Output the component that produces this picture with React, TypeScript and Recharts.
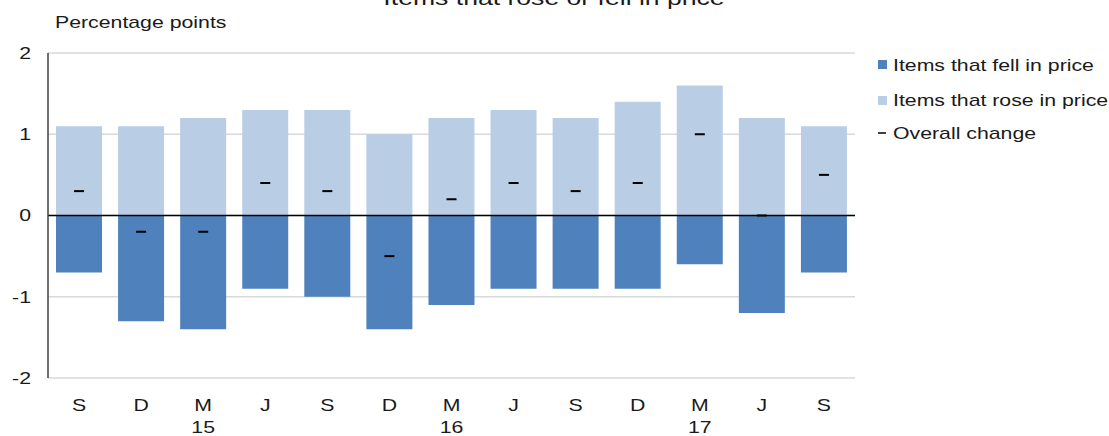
import React from "react";
import {
  ComposedChart,
  Bar,
  Line,
  XAxis,
  YAxis,
  CartesianGrid,
  ReferenceLine,
} from "recharts";

const months = ["S", "D", "M", "J", "S", "D", "M", "J", "S", "D", "M", "J", "S"];
const years = ["", "", "15", "", "", "", "16", "", "", "", "17", "", ""];
const rose = [1.1, 1.1, 1.2, 1.3, 1.3, 1.0, 1.2, 1.3, 1.2, 1.4, 1.6, 1.2, 1.1];
const fell = [-0.7, -1.3, -1.4, -0.9, -1.0, -1.4, -1.1, -0.9, -0.9, -0.9, -0.6, -1.2, -0.7];
const overall = [0.3, -0.2, -0.2, 0.4, 0.3, -0.5, 0.2, 0.4, 0.3, 0.4, 1.0, 0.0, 0.5];
const yTicks = [-2, -1, 0, 1, 2];

const dados = months.map((m, i) => ({
  mes: m,
  ano: years[i],
  subiu: rose[i],
  caiu: fell[i],
  geral: overall[i],
}));

const FONT = "'Liberation Sans', Arial, sans-serif";
const TXT = "#1a1a1a";
const STRETCH = 1.33;
const COR_CAIU = "#4F81BD";
const COR_SUBIU = "#B9CDE5";

function TickX(props: any) {
  const { x, y, payload } = props;
  const ano = years[payload.index] || "";
  return (
    <g transform={`translate(${x},${y})`}>
      <text
        transform={`scale(${STRETCH},1)`}
        textAnchor="middle"
        y={33}
        fontSize={16}
        fontFamily={FONT}
        fill={TXT}
      >
        {payload.value}
      </text>
      {ano && (
        <text
          transform={`scale(${STRETCH},1)`}
          textAnchor="middle"
          y={55}
          fontSize={16}
          fontFamily={FONT}
          fill={TXT}
        >
          {ano}
        </text>
      )}
    </g>
  );
}

function TickY(props: any) {
  const { y, payload } = props;
  return (
    <g transform={`translate(31,${y})`}>
      <text
        transform={`scale(${STRETCH},1)`}
        textAnchor="end"
        dy="0.36em"
        fontSize={16}
        fontFamily={FONT}
        fill={TXT}
      >
        {payload.value}
      </text>
    </g>
  );
}

function Traco(props: any) {
  const { cx, cy, index } = props;
  if (cx == null || cy == null) return <g key={index} />;
  return (
    <line
      key={index}
      x1={cx - 5}
      x2={cx + 5}
      y1={cy}
      y2={cy}
      stroke="#000"
      strokeWidth={2}
    />
  );
}

function Rotulo({ x, y, children, size = 16, anchor = "start" }: any) {
  return (
    <g transform={`translate(${x},${y})`}>
      <text
        transform={`scale(${STRETCH},1)`}
        textAnchor={anchor}
        fontSize={size}
        fontFamily={FONT}
        fill={TXT}
      >
        {children}
      </text>
    </g>
  );
}

export default function App() {
  return (
    <div style={{ position: "absolute", left: 0, top: 0, width: 1109, height: 436 }}>
      <ComposedChart
        width={1109}
        height={436}
        data={dados}
        stackOffset="sign"
        margin={{ top: 53, right: 254, bottom: 0, left: 8 }}
      >
        <CartesianGrid vertical={false} stroke="#d9d9d9" strokeWidth={1.5} />
        <XAxis
          dataKey="mes"
          axisLine={false}
          tickLine={false}
          tickSize={0}
          tickMargin={0}
          height={58}
          interval={0}
          tick={<TickX />}
        />
        <YAxis
          domain={[-2, 2]}
          ticks={yTicks}
          width={40}
          tickLine={false}
          axisLine={{ stroke: "#404040", strokeWidth: 1.5 }}
          tick={<TickY />}
        />
        <Bar dataKey="subiu" stackId="a" fill={COR_SUBIU} barSize={46} isAnimationActive={false} />
        <Bar dataKey="caiu" stackId="a" fill={COR_CAIU} barSize={46} isAnimationActive={false} />
        <ReferenceLine y={0} stroke="#000" strokeWidth={1.5} />
        <Line
          dataKey="geral"
          stroke="none"
          dot={<Traco />}
          activeDot={false}
          isAnimationActive={false}
        />
      </ComposedChart>
      <svg
        width={1109}
        height={436}
        style={{ position: "absolute", left: 0, top: 0, pointerEvents: "none" }}
      >
        <Rotulo x={554} y={5} size={20} anchor="middle">
          Items that rose or fell in price
        </Rotulo>
        <Rotulo x={55} y={28}>
          Percentage points
        </Rotulo>
        <rect x={878} y={60} width={9} height={9} fill={COR_CAIU} />
        <Rotulo x={893} y={71}>
          Items that fell in price
        </Rotulo>
        <rect x={878} y={96} width={9} height={9} fill={COR_SUBIU} />
        <Rotulo x={893} y={106}>
          Items that rose in price
        </Rotulo>
        <line x1={878} x2={886} y1={133} y2={133} stroke="#000" strokeWidth={1.5} />
        <Rotulo x={893} y={139}>
          Overall change
        </Rotulo>
      </svg>
    </div>
  );
}
